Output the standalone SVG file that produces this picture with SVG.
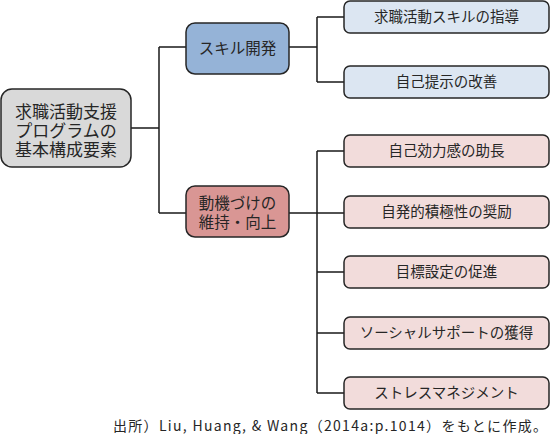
<svg xmlns="http://www.w3.org/2000/svg" width="550" height="434" viewBox="0 0 550 434">
<style>
text{font-family:"Noto Sans CJK JP","Noto Sans",sans-serif;fill:#262626;text-anchor:middle}
.n rect{stroke:#262626;stroke-width:1.5}
.c{font-size:14.5px}
.blue rect{fill:#dce6f2}
.pink rect{fill:#f2dcdb}
#connectors path{fill:none;stroke:#1a1a1a;stroke-width:1.5}
</style>
<rect width="550" height="434" fill="#ffffff"/>
<g id="connectors">
<path d="M131,128 H159 M159,47 V213 M159,47 H186 M159,213 H186"/>
<path d="M289,47 H317 M317,17 V82 M317,17 H344 M317,82 H344"/>
<path d="M289,213 H344 M317,151 V393 M317,151 H344 M317,272 H344 M317,333 H344 M317,393 H344"/>
</g>
<g id="root" class="n">
<rect x="1" y="89" width="130" height="78" rx="11" fill="#d9d9d9"/>
<text x="66" y="118" font-size="17"><tspan x="66" y="118">求職活動支援</tspan><tspan x="66" y="137">プログラムの</tspan><tspan x="66" y="156">基本構成要素</tspan></text>
</g>
<g id="skill" class="n">
<rect x="186" y="23" width="103" height="51" rx="9" fill="#95b3d7"/>
<text x="237.5" y="54" font-size="15.5">スキル開発</text>
</g>
<g id="motivation" class="n">
<rect x="186" y="186" width="103" height="51" rx="9" fill="#d99694"/>
<text x="237.5" y="208.5" font-size="15.5"><tspan x="237.5" y="208.5">動機づけの</tspan><tspan x="237.5" y="228">維持・向上</tspan></text>
</g>
<g id="c1" class="n blue">
<rect x="344" y="1" width="205" height="32" rx="6"/>
<text class="c" x="446.5" y="22">求職活動スキルの指導</text>
</g>
<g id="c2" class="n blue">
<rect x="344" y="66" width="205" height="32" rx="6"/>
<text class="c" x="446.5" y="87">自己提示の改善</text>
</g>
<g id="c3" class="n pink">
<rect x="344" y="135" width="205" height="32" rx="6"/>
<text class="c" x="446.5" y="156">自己効力感の助長</text>
</g>
<g id="c4" class="n pink">
<rect x="344" y="196" width="205" height="32" rx="6"/>
<text class="c" x="446.5" y="217">自発的積極性の奨励</text>
</g>
<g id="c5" class="n pink">
<rect x="344" y="256" width="205" height="32" rx="6"/>
<text class="c" x="446.5" y="277">目標設定の促進</text>
</g>
<g id="c6" class="n pink">
<rect x="344" y="317" width="205" height="32" rx="6"/>
<text class="c" x="446.5" y="338">ソーシャルサポートの獲得</text>
</g>
<g id="c7" class="n pink">
<rect x="344" y="377" width="205" height="32" rx="6"/>
<text class="c" x="446.5" y="398">ストレスマネジメント</text>
</g>
<text x="113" y="431" font-size="14" style="text-anchor:start" textLength="434" lengthAdjust="spacing">出所）Liu, Huang, &amp; Wang（2014a:p.1014）をもとに作成。</text>
</svg>
